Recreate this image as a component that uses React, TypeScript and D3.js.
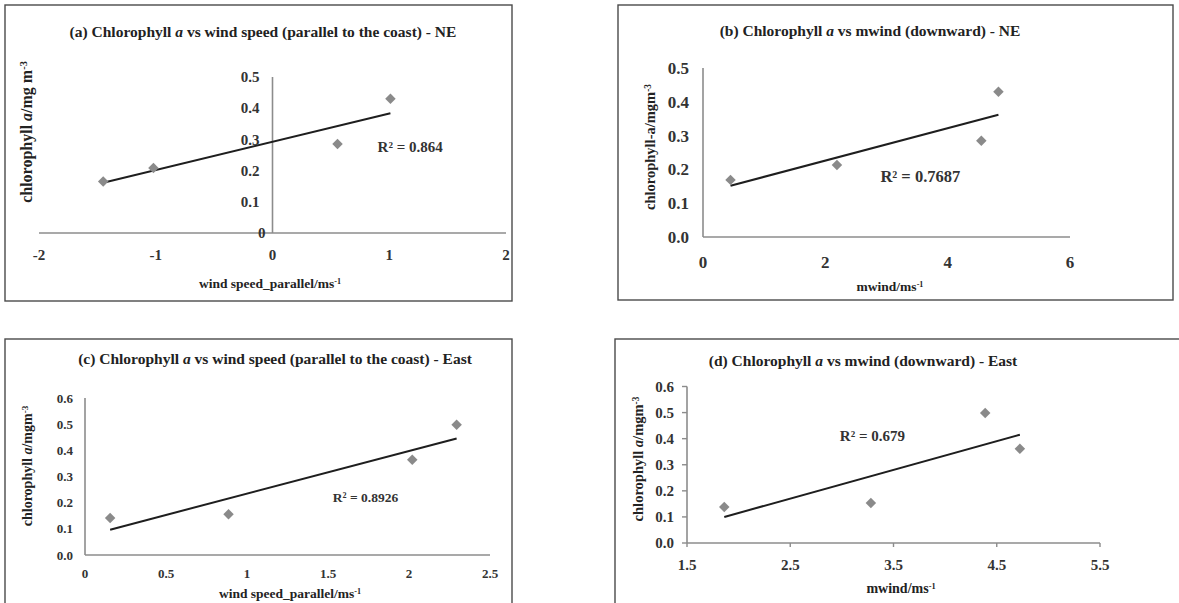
import React from "react";
import * as d3 from "d3";

// ---------- data ----------
const titlesPre = [
  "(a) Chlorophyll ",
  "(b) Chlorophyll ",
  "(c) Chlorophyll ",
  "(d) Chlorophyll ",
];
const titlesPost = [
  " vs wind speed (parallel to the coast) - NE",
  " vs mwind (downward) - NE",
  " vs wind speed (parallel to the coast) - East",
  " vs mwind (downward) - East",
];

const aX = [-1.45, -1.02, 0.557, 1.01];
const aY = [0.165, 0.208, 0.285, 0.43];
const bX = [0.45, 2.19, 4.55, 4.83];
const bY = [0.169, 0.213, 0.285, 0.43];
const cX = [0.155, 0.886, 2.02, 2.294];
const cY = [0.141, 0.156, 0.364, 0.498];
const dX = [1.861, 3.281, 4.388, 4.724];
const dY = [0.138, 0.153, 0.498, 0.361];

const aXTicks = [-2, -1, 0, 1, 2];
const aYTicks = [0, 0.1, 0.2, 0.3, 0.4, 0.5];
const bXTicks = [0, 2, 4, 6];
const bYTicks = [0, 0.1, 0.2, 0.3, 0.4, 0.5];
const cXTicks = [0, 0.5, 1, 1.5, 2, 2.5];
const cYTicks = [0, 0.1, 0.2, 0.3, 0.4, 0.5, 0.6];
const dXTicks = [1.5, 2.5, 3.5, 4.5, 5.5];
const dYTicks = [0, 0.1, 0.2, 0.3, 0.4, 0.5, 0.6];

const r2Labels = ["0.864", "0.7687", "0.8926", "0.679"];
const r2Pos = [
  [0.9, 0.26],
  [2.9, 0.163],
  [1.53, 0.204],
  [2.98, 0.39],
];

const yLabelsPre = ["chlorophyll ", "chlorophyll-a/mgm", "chlorophyll ", "chlorophyll "];
const yLabelsItal = ["a", "", "a", "a"];
const yLabelsPost = ["/mg m", "", "/mgm", "/mgm"];
const xLabelsBase = ["wind speed_parallel/ms", "mwind/ms", "wind speed_parallel/ms", "mwind/ms"];

// ---------- layout / style ----------
const FONT = "'Liberation Serif', 'Times New Roman', serif";
const AXIS_COLOR = "#8c8c8c";
const MARK_COLOR = "#8a8a8a";
const LINE_COLOR = "#1e1e1e";

type PanelCfg = {
  box: [number, number, number, number];
  xRange: [number, number];
  yRange: [number, number];
  xDomain: [number, number];
  yDomain: [number, number];
  xs: number[];
  ys: number[];
  xTicks: number[];
  yTicks: number[];
  xFmt: (v: number) => string;
  yFmt: (v: number) => string;
  crossAtZero: boolean;
  tickFont: number;
  yLabGap: number;
  xLabBaseline: number;
  titleX: number;
  titleY: number;
  titleFont: number;
  yLabelX: number;
  yLabelY: number;
  yLabelFont: number;
  xLabelX: number;
  xLabelY: number;
  xLabelFont: number;
  r2Font: number;
  tickMarks: boolean;
};

const fmt1 = (v: number) => d3.format(".1f")(v);
const fmtG = (v: number) => String(+v.toFixed(2));

const panels: PanelCfg[] = [
  {
    box: [5, 5, 512, 301],
    xRange: [39, 506],
    yRange: [233, 77],
    xDomain: [-2, 2],
    yDomain: [0, 0.5],
    xs: aX,
    ys: aY,
    xTicks: aXTicks,
    yTicks: aYTicks,
    xFmt: fmtG,
    yFmt: fmtG,
    crossAtZero: true,
    tickFont: 15,
    yLabGap: 13,
    xLabBaseline: 260,
    titleX: 263,
    titleY: 37,
    titleFont: 15.5,
    yLabelX: 32,
    yLabelY: 132,
    yLabelFont: 16,
    xLabelX: 270,
    xLabelY: 288,
    xLabelFont: 13.5,
    r2Font: 15,
    tickMarks: false,
  },
  {
    box: [618, 5, 1173, 300],
    xRange: [703, 1070],
    yRange: [237, 68],
    xDomain: [0, 6],
    yDomain: [0, 0.5],
    xs: bX,
    ys: bY,
    xTicks: bXTicks,
    yTicks: bYTicks,
    xFmt: fmtG,
    yFmt: fmt1,
    crossAtZero: false,
    tickFont: 17,
    yLabGap: 14,
    xLabBaseline: 268,
    titleX: 870,
    titleY: 36,
    titleFont: 15.5,
    yLabelX: 655,
    yLabelY: 147,
    yLabelFont: 14.5,
    xLabelX: 890,
    xLabelY: 291,
    xLabelFont: 13.5,
    r2Font: 16.5,
    tickMarks: false,
  },
  {
    box: [5, 339, 512, 610],
    xRange: [85, 490],
    yRange: [555, 398],
    xDomain: [0, 2.5],
    yDomain: [0, 0.6],
    xs: cX,
    ys: cY,
    xTicks: cXTicks,
    yTicks: cYTicks,
    xFmt: fmtG,
    yFmt: fmt1,
    crossAtZero: false,
    tickFont: 13,
    yLabGap: 12,
    xLabBaseline: 578,
    titleX: 275,
    titleY: 364,
    titleFont: 15.5,
    yLabelX: 32,
    yLabelY: 466,
    yLabelFont: 14,
    xLabelX: 290,
    xLabelY: 598,
    xLabelFont: 13.5,
    r2Font: 13.5,
    tickMarks: false,
  },
  {
    box: [615, 339, 1190, 610],
    xRange: [687, 1100],
    yRange: [543, 386.5],
    xDomain: [1.5, 5.5],
    yDomain: [0, 0.6],
    xs: dX,
    ys: dY,
    xTicks: dXTicks,
    yTicks: dYTicks,
    xFmt: fmtG,
    yFmt: fmt1,
    crossAtZero: false,
    tickFont: 15,
    yLabGap: 13,
    xLabBaseline: 570,
    titleX: 863,
    titleY: 366,
    titleFont: 15.5,
    yLabelX: 643,
    yLabelY: 459,
    yLabelFont: 14.5,
    xLabelX: 901,
    xLabelY: 593,
    xLabelFont: 14,
    r2Font: 15,
    tickMarks: true,
  },
];

function regression(xs: number[], ys: number[]) {
  const mx = d3.mean(xs) as number;
  const my = d3.mean(ys) as number;
  let sxy = 0;
  let sxx = 0;
  xs.forEach((x, i) => {
    sxy += (x - mx) * (ys[i] - my);
    sxx += (x - mx) * (x - mx);
  });
  const slope = sxy / sxx;
  return (x: number) => my + slope * (x - mx);
}

function Panel({ cfg, i }: { cfg: PanelCfg; i: number }) {
  const x = d3.scaleLinear().domain(cfg.xDomain).range(cfg.xRange);
  const y = d3.scaleLinear().domain(cfg.yDomain).range(cfg.yRange);
  const axisX = cfg.crossAtZero ? x(0) : cfg.xRange[0];
  const axisY = cfg.crossAtZero ? y(0) : cfg.yRange[0];
  const f = regression(cfg.xs, cfg.ys);
  const xMin = d3.min(cfg.xs) as number;
  const xMax = d3.max(cfg.xs) as number;
  const line = d3
    .line<number>()
    .x((v) => x(v))
    .y((v) => y(f(v)));
  const diamond = d3.symbol().type(d3.symbolDiamond2).size(70)() as string;
  const [bx0, by0, bx1, by1] = cfg.box;
  return (
    <g fontFamily={FONT} fontWeight="bold" fill="#222">
      <rect x={bx0} y={by0} width={bx1 - bx0} height={by1 - by0} fill="#fff" stroke="#4a4a4a" strokeWidth={1.4} />
      <text x={cfg.titleX} y={cfg.titleY} textAnchor="middle" fontSize={cfg.titleFont}>
        {titlesPre[i]}
        <tspan fontStyle="italic">a</tspan>
        {titlesPost[i]}
      </text>
      {/* axes */}
      <line x1={cfg.xRange[0]} x2={cfg.xRange[1]} y1={axisY} y2={axisY} stroke={AXIS_COLOR} strokeWidth={1.6} />
      <line x1={axisX} x2={axisX} y1={cfg.yRange[0]} y2={cfg.yRange[1]} stroke={AXIS_COLOR} strokeWidth={1.6} />
      {cfg.tickMarks &&
        cfg.yTicks.map((t) => (
          <line key={"ym" + t} x1={axisX - 5} x2={axisX} y1={y(t)} y2={y(t)} stroke={AXIS_COLOR} strokeWidth={1.4} />
        ))}
      {cfg.tickMarks &&
        cfg.xTicks.map((t) => (
          <line key={"xm" + t} x1={x(t)} x2={x(t)} y1={axisY} y2={axisY + 4} stroke={AXIS_COLOR} strokeWidth={1.4} />
        ))}
      {cfg.yTicks.map((t) => (
        <text
          key={"yt" + t}
          x={axisX - cfg.yLabGap + (cfg.crossAtZero && t === 0 ? 6 : 0)}
          y={y(t)}
          dy="0.35em"
          textAnchor="end"
          fontSize={cfg.tickFont}
          fill="#333"
        >
          {cfg.yFmt(t)}
        </text>
      ))}
      {cfg.xTicks.map((t) => (
        <text key={"xt" + t} x={x(t)} y={cfg.xLabBaseline} textAnchor="middle" fontSize={cfg.tickFont} fill="#333">
          {cfg.xFmt(t)}
        </text>
      ))}
      {/* axis titles */}
      <text
        transform={`translate(${cfg.yLabelX},${cfg.yLabelY}) rotate(-90)`}
        textAnchor="middle"
        fontSize={cfg.yLabelFont}
      >
        {yLabelsPre[i]}
        {yLabelsItal[i] && <tspan fontStyle="italic">{yLabelsItal[i]}</tspan>}
        {yLabelsPost[i]}
        <tspan dy="-0.45em" fontSize={cfg.yLabelFont * 0.65}>
          -3
        </tspan>
      </text>
      <text x={cfg.xLabelX} y={cfg.xLabelY} textAnchor="middle" fontSize={cfg.xLabelFont}>
        {xLabelsBase[i]}
        <tspan dy="-0.45em" fontSize={cfg.xLabelFont * 0.6}>
          -1
        </tspan>
      </text>
      {/* trendline */}
      <path d={line([xMin, xMax]) as string} fill="none" stroke={LINE_COLOR} strokeWidth={2} />
      {/* markers */}
      {cfg.xs.map((v, k) => (
        <path key={"m" + k} d={diamond} transform={`translate(${x(v)},${y(cfg.ys[k])})`} fill={MARK_COLOR} />
      ))}
      <text x={x(r2Pos[i][0])} y={y(r2Pos[i][1])} fontSize={cfg.r2Font} fill="#333">
        R² = {r2Labels[i]}
      </text>
    </g>
  );
}

export default function App() {
  return (
    <svg
      width={1179}
      height={603}
      style={{ position: "absolute", left: 0, top: 0, background: "#fff" }}
    >
      <rect x={0} y={0} width={1179} height={603} fill="#fff" />
      {panels.map((p, i) => (
        <Panel key={i} cfg={p} i={i} />
      ))}
    </svg>
  );
}
